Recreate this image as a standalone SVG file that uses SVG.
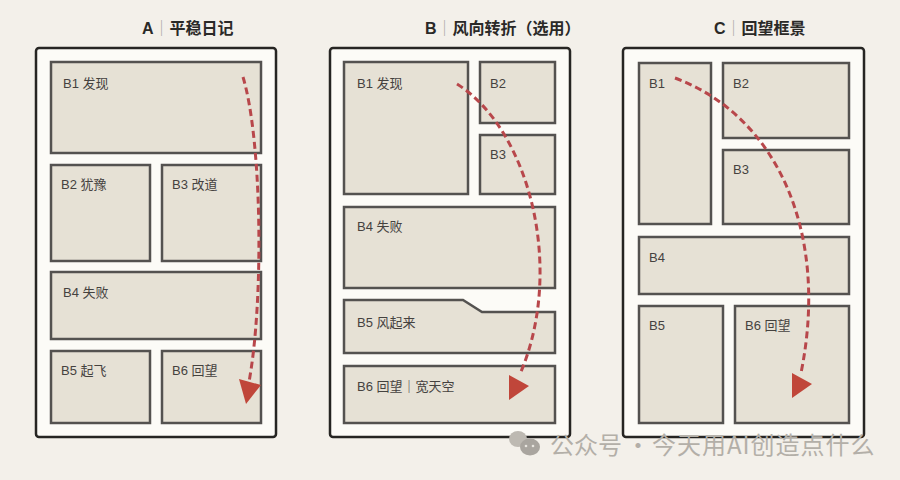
<svg xmlns="http://www.w3.org/2000/svg" width="900" height="480" viewBox="0 0 900 480">
<style>
.frame{fill:#fcfbf7;stroke:#262523;stroke-width:2.5}
.cell{fill:#e6e1d5;stroke:#545250;stroke-width:2.5}
.lbl{font-family:"Liberation Sans","Noto Sans CJK SC",sans-serif;font-size:13px;fill:#45423f}
.ttl{font-family:"Liberation Sans","Noto Sans CJK SC",sans-serif;font-size:16px;font-weight:bold;fill:#2a2927}
.bar{font-weight:normal;fill:#a9a6a0}
.path{fill:none;stroke:#b8474b;stroke-width:3;stroke-dasharray:7 4}
.head{fill:#c0463a}
.wm{font-family:"Noto Sans CJK SC","Liberation Sans",sans-serif;font-size:24px;fill:#b3afa8}
</style>
<rect width="900" height="480" fill="#f3f0ea"/>

<g id="titles">
<text class="ttl" x="142" y="34">A<tspan class="bar">｜</tspan>平稳日记</text>
<text class="ttl" x="425" y="34">B<tspan class="bar">｜</tspan>风向转折（选用）</text>
<text class="ttl" x="714" y="34">C<tspan class="bar">｜</tspan>回望框景</text>
</g>

<g id="panelA">
<rect class="frame" x="36" y="48" width="240" height="389" rx="3"/>
<g id="A-B1"><rect class="cell" x="51" y="62" width="210" height="91"/><text class="lbl" x="63" y="88">B1 发现</text></g>
<g id="A-B2"><rect class="cell" x="51" y="165" width="99" height="96"/><text class="lbl" x="61" y="189">B2 犹豫</text></g>
<g id="A-B3"><rect class="cell" x="162" y="165" width="99" height="96"/><text class="lbl" x="172" y="189">B3 改道</text></g>
<g id="A-B4"><rect class="cell" x="51" y="272" width="210" height="67"/><text class="lbl" x="63" y="297">B4 失败</text></g>
<g id="A-B5"><rect class="cell" x="51" y="351" width="99" height="72"/><text class="lbl" x="61" y="375">B5 起飞</text></g>
<g id="A-B6"><rect class="cell" x="162" y="351" width="99" height="72"/><text class="lbl" x="172" y="375">B6 回望</text></g>
</g>

<g id="panelB">
<rect class="frame" x="330" y="48" width="240" height="389" rx="3"/>
<g id="B-B1"><rect class="cell" x="344" y="62" width="124" height="132"/><text class="lbl" x="357" y="88">B1 发现</text></g>
<g id="B-B2"><rect class="cell" x="480" y="62" width="75" height="61"/><text class="lbl" x="490" y="88">B2</text></g>
<g id="B-B3"><rect class="cell" x="480" y="135" width="75" height="59"/><text class="lbl" x="490" y="159">B3</text></g>
<g id="B-B4"><rect class="cell" x="344" y="207" width="211" height="81"/><text class="lbl" x="357" y="231">B4 失败</text></g>
<g id="B-B5"><path class="cell" d="M344 300 L463 300 L482 312 L555 312 L555 353 L344 353 Z"/><text class="lbl" x="357" y="327">B5 风起来</text></g>
<g id="B-B6"><rect class="cell" x="344" y="366" width="211" height="57"/><text class="lbl" x="357" y="391">B6 回望｜宽天空</text></g>
</g>

<g id="panelC">
<rect class="frame" x="623" y="48" width="241" height="389" rx="3"/>
<g id="C-B1"><rect class="cell" x="639" y="63" width="72" height="161"/><text class="lbl" x="649" y="88">B1</text></g>
<g id="C-B2"><rect class="cell" x="723" y="63" width="126" height="75"/><text class="lbl" x="733" y="88">B2</text></g>
<g id="C-B3"><rect class="cell" x="723" y="150" width="126" height="74"/><text class="lbl" x="733" y="174">B3</text></g>
<g id="C-B4"><rect class="cell" x="639" y="237" width="210" height="57"/><text class="lbl" x="649" y="262">B4</text></g>
<g id="C-B5"><rect class="cell" x="639" y="306" width="84" height="117"/><text class="lbl" x="649" y="330">B5</text></g>
<g id="C-B6"><rect class="cell" x="735" y="306" width="114" height="117"/><text class="lbl" x="745" y="330">B6 回望</text></g>
</g>

<g id="connectors">
<path class="path" d="M243 77 C262 140 264 300 249 382"/>
<polygon class="head" points="239,379 261,385 246,404"/>
<path class="path" d="M457 84 C530 130 565 270 520 374"/>
<polygon class="head" points="509,375 529,386 509,400"/>
<path class="path" d="M675 78 C775 115 830 230 801 373"/>
<polygon class="head" points="792,373 812,384 792,398"/>
</g>

<g id="watermark">
<ellipse cx="518" cy="439" rx="9" ry="8" fill="#bdb9b2"/>
<ellipse cx="530" cy="447" rx="10" ry="8.5" fill="#a9a59f"/>
<circle cx="526" cy="446" r="1.3" fill="#e8e5df"/>
<circle cx="533" cy="446" r="1.3" fill="#e8e5df"/>
<text class="wm" y="454"><tspan x="550">公众号</tspan><tspan x="626">·</tspan><tspan x="652" letter-spacing="1">今天用AI创造点什么</tspan></text>
</g>
</svg>
